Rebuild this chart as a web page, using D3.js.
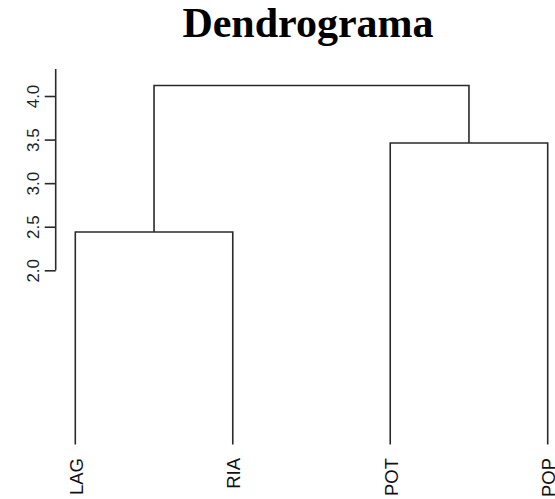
<!DOCTYPE html>
<html>
<head>
<meta charset="utf-8">
<script src="https://cdn.jsdelivr.net/npm/d3@7"></script>
<style>
body { margin: 0; background: #fff; }
</style>
</head>
<body>
<script>
// data: hclust result (R style merge matrix)
var leaves = ["LAG", "RIA", "POT", "POP"];
var merge = [[-1, -2], [-3, -4], [1, 2]];
var heights = [2.44, 3.46, 4.12];
var yTicks = [2.0, 2.5, 3.0, 3.5, 4.0];
var axisTop = 4.31;

var width = 555, height = 499;

var svg = d3.select("body")
	.append("svg")
	.attr("width", width)
	.attr("height", height);

var x = d3.scalePoint()
	.domain(leaves)
	.range([75.3, 547.7]);

var y = d3.scaleLinear()
	.domain([0, axisTop])
	.range([444.6, 69]);

// node positions
var clusterX = [];
function nodeX(id) {
	return id < 0 ? x(leaves[-id - 1]) : clusterX[id - 1];
}
function nodeH(id) {
	return id < 0 ? 0 : heights[id - 1];
}
merge.forEach(function(m, i) {
	clusterX[i] = (nodeX(m[0]) + nodeX(m[1])) / 2;
});

// draw branches
var g = svg.append("g");
g.selectAll("path.branch")
	.data(merge)
	.enter()
	.append("path")
	.attr("class", "branch")
	.attr("fill", "none")
	.attr("stroke", "#2a2a2a")
	.attr("stroke-width", 1.6)
	.attr("d", function(m, i) {
		var h = y(heights[i]);
		return "M" + nodeX(m[0]) + "," + y(nodeH(m[0])) +
			"V" + h + "H" + nodeX(m[1]) + "V" + y(nodeH(m[1]));
	});

// leaf labels
g.selectAll("text.leaf")
	.data(leaves)
	.enter()
	.append("text")
	.attr("class", "leaf")
	.attr("transform", function(d) {
		return "translate(" + x(d) + "," + 458 + ") rotate(-90)";
	})
	.attr("text-anchor", "end")
	.attr("dy", "0.4em")
	.attr("font-family", "Liberation Sans, Arial, sans-serif")
	.attr("font-size", 18.5)
	.attr("fill", "#111")
	.text(function(d) { return d; });

// y axis
var yAxis = d3.axisLeft(y)
	.tickValues(yTicks)
	.tickFormat(d3.format(".1f"))
	.tickSize(11)
	.tickSizeOuter(0);

var ax = svg.append("g")
	.attr("transform", "translate(55.7,0)")
	.call(yAxis);
ax.select(".domain").remove();
ax.append("line")
	.attr("x1", 0).attr("x2", 0)
	.attr("y1", y(2.0)).attr("y2", y(axisTop))
	.attr("stroke", "#2a2a2a")
	.attr("stroke-width", 1.6);
ax.selectAll(".tick line")
	.attr("stroke", "#2a2a2a")
	.attr("stroke-width", 1.6);
ax.selectAll(".tick text")
	.attr("x", 0)
	.attr("dy", 0)
	.attr("transform", "translate(-22.5,0) rotate(-90)")
	.attr("text-anchor", "middle")
	.attr("dominant-baseline", "central")
	.attr("font-family", "Liberation Sans, Arial, sans-serif")
	.attr("font-size", 17)
	.attr("fill", "#222");

// title
svg.append("text")
	.attr("x", 308)
	.attr("y", 37)
	.attr("text-anchor", "middle")
	.attr("font-family", "Liberation Serif, Times New Roman, serif")
	.attr("font-weight", "bold")
	.attr("font-size", 42)
	.attr("fill", "#000")
	.text("Dendrograma");
</script>
</body>
</html>
